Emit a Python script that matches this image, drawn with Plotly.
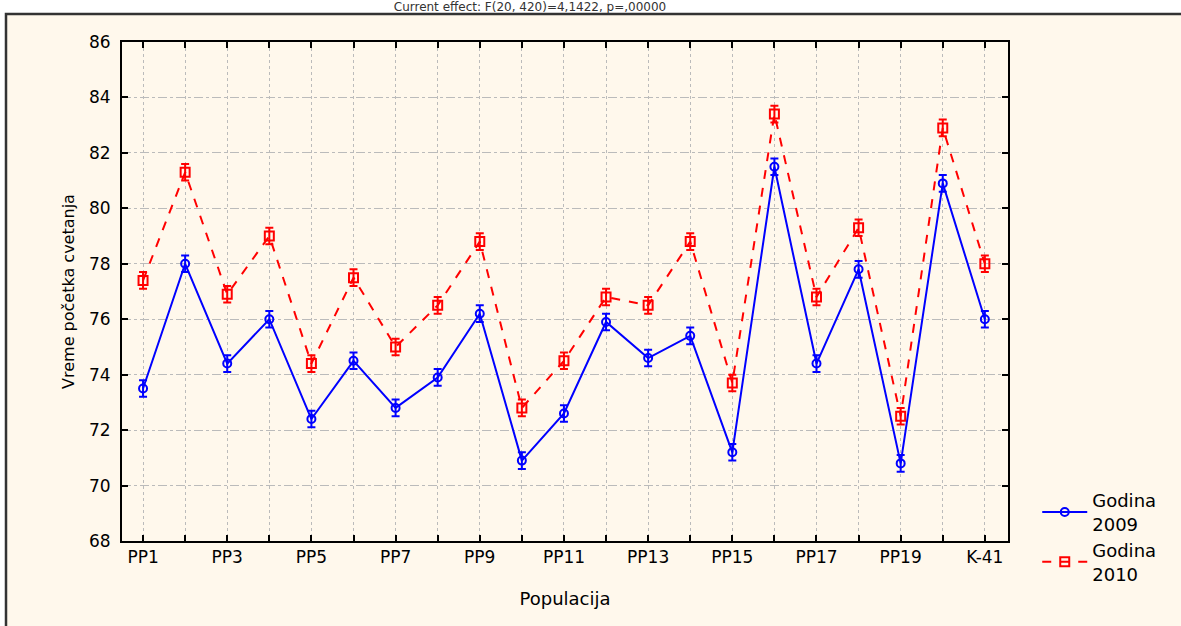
import plotly.graph_objects as go

categories = ["PP1", "PP2", "PP3", "PP4", "PP5", "PP6", "PP7", "PP8", "PP9", "PP10",
              "PP11", "PP12", "PP13", "PP14", "PP15", "PP16", "PP17", "PP18", "PP19", "PP20", "K-41"]
tick_labels = ["PP1", "", "PP3", "", "PP5", "", "PP7", "", "PP9", "", "PP11", "",
               "PP13", "", "PP15", "", "PP17", "", "PP19", "", "K-41"]
y2009 = [73.5, 78.0, 74.4, 76.0, 72.4, 74.5, 72.8, 73.9, 76.2, 70.9, 72.6,
         75.9, 74.6, 75.4, 71.2, 81.5, 74.4, 77.8, 70.8, 80.9, 76.0]
y2010 = [77.4, 81.3, 76.9, 79.0, 74.4, 77.5, 75.0, 76.5, 78.8, 72.8, 74.5,
         76.8, 76.5, 78.8, 73.7, 83.4, 76.8, 79.3, 72.5, 82.9, 78.0]
err2009 = [0.3, 0.3, 0.3, 0.3, 0.3, 0.3, 0.3, 0.3, 0.3, 0.3, 0.3,
           0.3, 0.3, 0.3, 0.3, 0.3, 0.3, 0.3, 0.3, 0.3, 0.3]
err2010 = [0.3, 0.3, 0.3, 0.3, 0.3, 0.3, 0.3, 0.3, 0.3, 0.3, 0.3,
           0.3, 0.3, 0.3, 0.3, 0.3, 0.3, 0.3, 0.3, 0.3, 0.3]
y_ticks = [68, 70, 72, 74, 76, 78, 80, 82, 84, 86]

xi = list(range(len(categories)))
FONT = "DejaVu Sans, Liberation Sans, Arial, sans-serif"

fig = go.Figure()
fig.add_trace(go.Scatter(
    x=xi, y=y2009, name="Godina<br>2009", mode="lines+markers",
    line=dict(color="#0000FF", width=2),
    marker=dict(symbol="circle-open", size=8, color="#0000FF", line=dict(width=2)),
    error_y=dict(type="data", array=err2009, color="#0000FF", thickness=2, width=4),
))
fig.add_trace(go.Scatter(
    x=xi, y=y2010, name="Godina<br>2010", mode="lines+markers",
    line=dict(color="#FF0000", width=2, dash="dash"),
    marker=dict(symbol="square-open", size=9, color="#FF0000", line=dict(width=2)),
    error_y=dict(type="data", array=err2010, color="#FF0000", thickness=2, width=4),
))

fig.update_layout(
    width=1181, height=626,
    margin=dict(l=122, r=173, t=42, b=85),
    paper_bgcolor="#FFFFFF", plot_bgcolor="#FFFFFF",
    font=dict(family=FONT, size=17, color="#000000"),
    title=dict(text="Current effect: F(20, 420)=4,1422, p=,00000",
               x=530 / 1181, xanchor="center", y=1 - 7 / 626, yanchor="middle",
               font=dict(size=12, color="#333333")),
    legend=dict(x=1.033, y=0.118, xanchor="left", yanchor="top", itemwidth=45,
                bgcolor="rgba(0,0,0,0)", font=dict(size=18), tracegroupgap=4),
    xaxis=dict(
        range=[-0.5, 20.55], tickmode="array", tickvals=xi, ticktext=tick_labels,
        showline=True, linecolor="#000000", linewidth=2, mirror="ticks",
        ticks="inside", ticklen=6, tickcolor="#000000", tickwidth=1.5,
        showgrid=True, gridcolor="#BBBBBB", gridwidth=1, griddash="dot",
        zeroline=False, tickfont=dict(size=17),
        title=dict(text="Populacija", font=dict(size=18), standoff=26),
    ),
    yaxis=dict(
        range=[68, 86], tickmode="array", tickvals=y_ticks,
        showline=True, linecolor="#000000", linewidth=2, mirror="ticks",
        ticks="inside", ticklen=6, tickcolor="#000000", tickwidth=1.5,
        showgrid=True, gridcolor="#BBBBBB", gridwidth=1, griddash="dashdot",
        zeroline=False, tickfont=dict(size=17), ticklabelstandoff=6,
        title=dict(text="Vreme početka cvetanja", font=dict(size=16), standoff=10),
    ),
    shapes=[dict(type="rect", xref="paper", yref="paper",
                 x0=(6 - 122) / 886, x1=(1200 - 122) / 886,
                 y0=(541 - 660) / 499, y1=(541 - 14) / 499,
                 line=dict(color="#333333", width=2.5), fillcolor="#FFF8EC",
                 layer="below")],
)

fig.write_html("out.html")
